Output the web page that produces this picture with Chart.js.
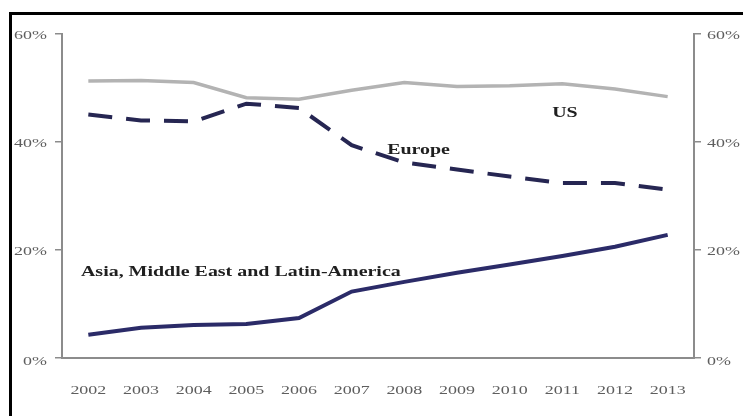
<!DOCTYPE html>
<html>
<head>
<meta charset="utf-8">
<script src="https://cdn.jsdelivr.net/npm/chart.js@4.4.1/dist/chart.umd.min.js"></script>
<style>
    body { margin: 0; background: #fff; }
    #wrap { position: relative; width: 743px; height: 416px; overflow: hidden; }
    #frame {
        position: absolute; left: 9px; top: 12px; width: 800px; height: 500px;
        border-top: 3px solid #000; border-left: 3px solid #000;
    }
    canvas { position: absolute; left: 0; top: 0; }
</style>
</head>
<body>
<div id="wrap">
    <div id="frame"></div>
    <canvas id="share_chart" width="743" height="416"></canvas>
</div>
<script>
const years = ['2002', '2003', '2004', '2005', '2006', '2007', '2008', '2009', '2010', '2011', '2012', '2013'];
const usShare = [51.3, 51.4, 51.0, 48.2, 47.9, 49.6, 51.0, 50.3, 50.4, 50.8, 49.8, 48.4];
const europeShare = [45.1, 44.0, 43.8, 47.1, 46.3, 39.4, 36.2, 34.9, 33.6, 32.4, 32.4, 31.2];
const asiaShare = [4.3, 5.6, 6.1, 6.3, 7.4, 12.3, 14.1, 15.8, 17.3, 18.9, 20.6, 22.8];
const percentTicks = [0, 20, 40, 60];

// series names written next to the lines: [text, category index, value, align]
const seriesNotes = [
    ['US', 9.05, 45.4, 'center'],
    ['Europe', 6.27, 38.5, 'center'],
    ['Asia, Middle East and Latin-America', -0.14, 15.9, 'left']
];

const axisGrey = '#8c8c8c';
const stretch = 1.33; // the serif text is drawn wide

// fillText with a horizontal stretch, keeping the requested alignment
function wideText(ctx, text, x, y, align) {
    const w = ctx.measureText(text).width * stretch;
    let left = x - w / 2;
    if (align === 'left') left = x;
    if (align === 'right') left = x - w;
    ctx.save();
    ctx.translate(left, y);
    ctx.scale(stretch, 1);
    ctx.textAlign = 'left';
    ctx.fillText(text, 0, 0);
    ctx.restore();
}

const labelsPlugin = {
    id: 'wideLabels',
    afterDraw(chart) {
        const ctx = chart.ctx;
        const s = chart.scales;
        ctx.save();
        ctx.textBaseline = 'middle';

        // tick labels
        ctx.fillStyle = '#5e5e5e';
        ctx.font = '13.5px "Liberation Serif"';
        s.x.ticks.forEach(function (t, i) {
            wideText(ctx, years[t.value], s.x.getPixelForTick(i), 390, 'center');
        });
        percentTicks.forEach(function (v) {
            const yl = s.y.getPixelForValue(v) + (v === 0 ? 3 : 1);
            wideText(ctx, v + '%', s.y.right - 15, yl, 'right');
            wideText(ctx, v + '%', s.y2.left + 13, yl, 'left');
        });

        // series names
        ctx.fillStyle = '#1f1f1f';
        ctx.font = 'bold 15px "Liberation Serif"';
        seriesNotes.forEach(function (n) {
            wideText(ctx, n[0], s.x.getPixelForValue(n[1]), s.y.getPixelForValue(n[2]), n[3]);
        });
        ctx.restore();
    }
};

function percentAxis(position, width) {
    return {
        position: position,
        min: 0,
        max: 60,
        afterFit: function (scale) { scale.width = width; },
        afterBuildTicks: function (scale) {
            scale.ticks = percentTicks.map(function (v) { return { value: v }; });
        },
        border: { color: axisGrey, width: 2 },
        grid: { drawOnChartArea: false, tickLength: 7, color: axisGrey, lineWidth: 1.5 },
        ticks: { display: false }
    };
}

let ctx = document.getElementById('share_chart').getContext('2d');
let chart = new Chart(ctx, {
    type: 'line',
    data: {
        labels: years,
        datasets: [
            {
                label: 'US',
                data: usShare,
                borderColor: '#b3b3b3',
                borderWidth: 3.5
            },
            {
                label: 'Europe',
                data: europeShare,
                borderColor: '#262652',
                borderWidth: 4,
                borderDash: [24, 14]
            },
            {
                label: 'Asia, Middle East and Latin-America',
                data: asiaShare,
                borderColor: '#2b2b68',
                borderWidth: 4
            }
        ]
    },
    options: {
        responsive: false,
        animation: false,
        layout: { padding: { top: 34, left: 0, right: 0, bottom: 0 } },
        elements: { point: { radius: 0 }, line: { tension: 0 } },
        plugins: { legend: { display: false }, tooltip: { enabled: false } },
        scales: {
            x: {
                offset: true,
                afterFit: function (scale) { scale.height = 58; },
                border: { color: axisGrey, width: 2 },
                grid: { display: false },
                ticks: { display: false }
            },
            y: percentAxis('left', 62),
            y2: percentAxis('right', 49)
        }
    },
    plugins: [labelsPlugin]
});
</script>
</body>
</html>
